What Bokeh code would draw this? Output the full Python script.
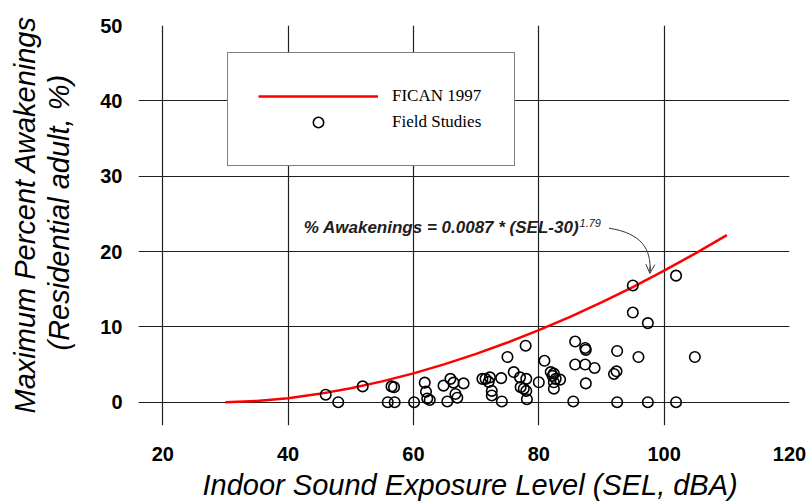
from bokeh.plotting import figure
from bokeh.models import FixedTicker, Legend, LegendItem, Label, Arrow, OpenHead, Range1d, Title
from bokeh.embed import file_html
from bokeh.resources import INLINE

# Field studies (SEL dBA, max % awakenings)
field_sel = [46.0, 48.0, 51.9, 56.5, 56.9, 55.9, 57.0, 60.1, 61.8, 62.0, 62.2, 62.6,
             64.8, 65.4, 65.9, 66.4, 66.7, 67.0, 68.0, 71.0, 71.5, 72.0, 72.2, 72.5,
             72.5, 74.0, 74.1, 75.0, 76.0, 77.0, 78.0, 77.1, 77.6, 78.0, 78.1, 77.9,
             80.0, 80.9, 81.9, 82.4, 82.2, 82.7, 82.4, 82.4, 83.4, 85.5, 85.8, 85.8,
             87.4, 87.4, 87.5, 87.5, 88.9, 92.0, 92.4, 92.5, 92.5, 95.0, 95.0, 95.9,
             97.4, 97.4, 101.9, 101.9, 104.9]
field_pct = [1.0, 0.0, 2.1, 2.1, 2.0, 0.0, 0.0, 0.0, 2.6, 1.4, 0.5, 0.3,
             2.2, 0.1, 3.1, 2.6, 1.1, 0.6, 2.5, 3.1, 3.1, 2.7, 3.3, 1.5,
             0.9, 3.2, 0.1, 6.0, 4.0, 3.3, 3.1, 2.0, 1.8, 1.5, 0.4, 7.5,
             2.65, 5.5, 4.0, 3.8, 3.5, 3.1, 2.65, 1.8, 3.0, 0.1, 8.05, 5.0,
             5.0, 7.2, 6.95, 2.5, 4.55, 3.75, 4.1, 6.8, 0.0, 15.5, 11.9, 6.0,
             10.5, 0.0, 16.8, 0.0, 6.0]

# FICAN 1997 curve
fican_sel = [30, 35, 40, 45, 50, 55, 60, 65, 70, 75, 80, 85, 90, 95, 100, 105, 110]
fican_pct = [0.0, 0.16, 0.54, 1.11, 1.86, 2.77, 3.83, 5.05, 6.42, 7.92, 9.57, 11.34,
             13.26, 15.29, 17.47, 19.76, 22.18]

x_ticks = [20, 40, 60, 80, 100, 120]
y_ticks = [0, 10, 20, 30, 40, 50]

x_title = "Indoor Sound Exposure Level (SEL, dBA)"
y_title_1 = "Maximum Percent Awakenings"
y_title_2 = "(Residential adult, %)"

p = figure(width=809, height=503, x_range=Range1d(16.13, 120), y_range=Range1d(-3.09, 50),
           output_backend="svg", toolbar_location=None,
           min_border_left=138, min_border_right=20, min_border_top=25, min_border_bottom=78)
p.outline_line_color = None
p.background_fill_color = "white"

for ax, ticks in ((p.xaxis, x_ticks), (p.yaxis, y_ticks)):
    ax.ticker = FixedTicker(ticks=ticks)
    ax.axis_line_color = None
    ax.major_tick_line_color = None
    ax.minor_tick_line_color = None
    ax.major_tick_in = 0
    ax.major_tick_out = 0
    ax.major_label_text_font = "Liberation Sans"
    ax.major_label_text_font_style = "bold"
    ax.major_label_text_font_size = "20px"
    ax.major_label_text_color = "black"

p.xaxis.major_label_standoff = 21
p.yaxis.major_label_standoff = 16

p.xgrid.ticker = FixedTicker(ticks=x_ticks)
p.ygrid.ticker = FixedTicker(ticks=y_ticks)
for g in (p.xgrid, p.ygrid):
    g.grid_line_color = "#202020"
    g.grid_line_width = 1.2

# axis titles as side titles (offset along the axis like the original)
tfont = dict(text_font="Liberation Sans", text_font_style="italic",
             text_font_size="29px", text_color="black")
p.add_layout(Title(text=x_title, align="left", offset=64, standoff=6,
                   vertical_align="bottom", **tfont), "below")
p.add_layout(Title(text=" ", text_font_size="1px", standoff=19), "left")
p.add_layout(Title(text=y_title_2, align="left", offset=75, standoff=0,
                   vertical_align="middle", **tfont), "left")
p.add_layout(Title(text=y_title_1, align="left", offset=12, standoff=0,
                   vertical_align="middle", **tfont), "left")

curve = p.line(fican_sel, fican_pct, line_color="#FF0000", line_width=2.5)
pts = p.scatter(field_sel, field_pct, marker="circle", size=10.5, line_color="black",
                line_width=1.6, fill_alpha=0)

legend = Legend(items=[LegendItem(label="FICAN 1997", renderers=[curve]),
                       LegendItem(label="Field Studies", renderers=[pts])],
                location=(89, 259), glyph_width=120, glyph_height=26, label_height=26,
                label_width=92, label_standoff=14, padding=30, spacing=0, margin=0,
                border_line_color="black", border_line_width=1,
                background_fill_color="white", background_fill_alpha=1,
                label_text_font="Liberation Serif", label_text_font_size="17px",
                label_text_color="black")
p.add_layout(legend)

# equation annotation
p.add_layout(Label(x=42.5, y=23.17, text="% Awakenings = 0.0087 * (SEL-30)",
                   text_font="Liberation Sans", text_font_style="bold italic",
                   text_font_size="17px", text_baseline="middle", text_color="#202020"))
p.add_layout(Label(x=86.5, y=23.8, text="1.79", text_font="Liberation Sans",
                   text_font_style="italic", text_font_size="11px",
                   text_baseline="middle", text_color="#202020"))

p.bezier(x0=91.2, y0=23.1, x1=97.75, y1=17.4, cx0=96.5, cy0=22.4, cx1=97.9, cy1=20.3,
         line_color="#333333", line_width=1)
p.add_layout(Arrow(end=OpenHead(size=9, line_width=1, line_color="#333333"),
                   x_start=97.78, y_start=18.0, x_end=97.72, y_end=17.1,
                   line_width=1, line_color="#333333"))

open("out.html", "w").write(file_html(p, INLINE))
